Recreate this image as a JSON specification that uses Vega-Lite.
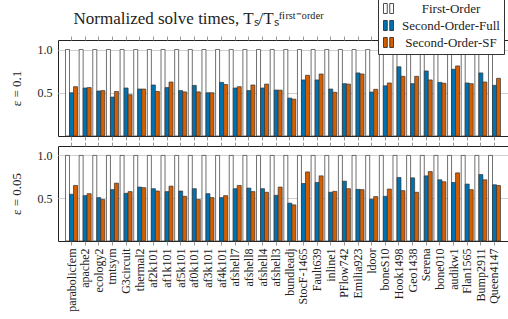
{
"$schema": "https://vega.github.io/schema/vega-lite/v6.json",
"padding": {"left": 9, "top": -3, "right": 0, "bottom": 0},
"title": {"text": "Normalized solve times, Tₛ/Tₛᶠⁱʳˢᵗ⁻ᵒʳᵈᵉʳ", "anchor": "start", "font": "Liberation Serif", "fontSize": 17, "fontWeight": "normal", "color": "#222", "dx": 64, "dy": 35, "offset": 4},
"datasets": {"d": [
{"m":"parabolicfem","e":"0.1","s":"First-Order","v":1},{"m":"parabolicfem","e":"0.1","s":"Second-Order-Full","v":0.50},{"m":"parabolicfem","e":"0.1","s":"Second-Order-SF","v":0.57},
{"m":"parabolicfem","e":"0.05","s":"First-Order","v":1},{"m":"parabolicfem","e":"0.05","s":"Second-Order-Full","v":0.546},{"m":"parabolicfem","e":"0.05","s":"Second-Order-SF","v":0.649},
{"m":"apache2","e":"0.1","s":"First-Order","v":1},{"m":"apache2","e":"0.1","s":"Second-Order-Full","v":0.555},{"m":"apache2","e":"0.1","s":"Second-Order-SF","v":0.56},
{"m":"apache2","e":"0.05","s":"First-Order","v":1},{"m":"apache2","e":"0.05","s":"Second-Order-Full","v":0.53},{"m":"apache2","e":"0.05","s":"Second-Order-SF","v":0.553},
{"m":"ecology2","e":"0.1","s":"First-Order","v":1},{"m":"ecology2","e":"0.1","s":"Second-Order-Full","v":0.52},{"m":"ecology2","e":"0.1","s":"Second-Order-SF","v":0.525},
{"m":"ecology2","e":"0.05","s":"First-Order","v":1},{"m":"ecology2","e":"0.05","s":"Second-Order-Full","v":0.507},{"m":"ecology2","e":"0.05","s":"Second-Order-SF","v":0.484},
{"m":"tmtsym","e":"0.1","s":"First-Order","v":1},{"m":"tmtsym","e":"0.1","s":"Second-Order-Full","v":0.45},{"m":"tmtsym","e":"0.1","s":"Second-Order-SF","v":0.515},
{"m":"tmtsym","e":"0.05","s":"First-Order","v":1},{"m":"tmtsym","e":"0.05","s":"Second-Order-Full","v":0.60},{"m":"tmtsym","e":"0.05","s":"Second-Order-SF","v":0.676},
{"m":"G3circuit","e":"0.1","s":"First-Order","v":1},{"m":"G3circuit","e":"0.1","s":"Second-Order-Full","v":0.555},{"m":"G3circuit","e":"0.1","s":"Second-Order-SF","v":0.477},
{"m":"G3circuit","e":"0.05","s":"First-Order","v":1},{"m":"G3circuit","e":"0.05","s":"Second-Order-Full","v":0.557},{"m":"G3circuit","e":"0.05","s":"Second-Order-SF","v":0.577},
{"m":"thermal2","e":"0.1","s":"First-Order","v":1},{"m":"thermal2","e":"0.1","s":"Second-Order-Full","v":0.543},{"m":"thermal2","e":"0.1","s":"Second-Order-SF","v":0.543},
{"m":"thermal2","e":"0.05","s":"First-Order","v":1},{"m":"thermal2","e":"0.05","s":"Second-Order-Full","v":0.63},{"m":"thermal2","e":"0.05","s":"Second-Order-SF","v":0.623},
{"m":"af2k101","e":"0.1","s":"First-Order","v":1},{"m":"af2k101","e":"0.1","s":"Second-Order-Full","v":0.59},{"m":"af2k101","e":"0.1","s":"Second-Order-SF","v":0.515},
{"m":"af2k101","e":"0.05","s":"First-Order","v":1},{"m":"af2k101","e":"0.05","s":"Second-Order-Full","v":0.611},{"m":"af2k101","e":"0.05","s":"Second-Order-SF","v":0.584},
{"m":"af1k101","e":"0.1","s":"First-Order","v":1},{"m":"af1k101","e":"0.1","s":"Second-Order-Full","v":0.56},{"m":"af1k101","e":"0.1","s":"Second-Order-SF","v":0.624},
{"m":"af1k101","e":"0.05","s":"First-Order","v":1},{"m":"af1k101","e":"0.05","s":"Second-Order-Full","v":0.577},{"m":"af1k101","e":"0.05","s":"Second-Order-SF","v":0.641},
{"m":"af5k101","e":"0.1","s":"First-Order","v":1},{"m":"af5k101","e":"0.1","s":"Second-Order-Full","v":0.525},{"m":"af5k101","e":"0.1","s":"Second-Order-SF","v":0.51},
{"m":"af5k101","e":"0.05","s":"First-Order","v":1},{"m":"af5k101","e":"0.05","s":"Second-Order-Full","v":0.584},{"m":"af5k101","e":"0.05","s":"Second-Order-SF","v":0.522},
{"m":"af0k101","e":"0.1","s":"First-Order","v":1},{"m":"af0k101","e":"0.1","s":"Second-Order-Full","v":0.585},{"m":"af0k101","e":"0.1","s":"Second-Order-SF","v":0.51},
{"m":"af0k101","e":"0.05","s":"First-Order","v":1},{"m":"af0k101","e":"0.05","s":"Second-Order-Full","v":0.611},{"m":"af0k101","e":"0.05","s":"Second-Order-SF","v":0.484},
{"m":"af3k101","e":"0.1","s":"First-Order","v":1},{"m":"af3k101","e":"0.1","s":"Second-Order-Full","v":0.50},{"m":"af3k101","e":"0.1","s":"Second-Order-SF","v":0.50},
{"m":"af3k101","e":"0.05","s":"First-Order","v":1},{"m":"af3k101","e":"0.05","s":"Second-Order-Full","v":0.553},{"m":"af3k101","e":"0.05","s":"Second-Order-SF","v":0.507},
{"m":"af4k101","e":"0.1","s":"First-Order","v":1},{"m":"af4k101","e":"0.1","s":"Second-Order-Full","v":0.62},{"m":"af4k101","e":"0.1","s":"Second-Order-SF","v":0.595},
{"m":"af4k101","e":"0.05","s":"First-Order","v":1},{"m":"af4k101","e":"0.05","s":"Second-Order-Full","v":0.507},{"m":"af4k101","e":"0.05","s":"Second-Order-SF","v":0.53},
{"m":"afshell7","e":"0.1","s":"First-Order","v":1},{"m":"afshell7","e":"0.1","s":"Second-Order-Full","v":0.555},{"m":"afshell7","e":"0.1","s":"Second-Order-SF","v":0.57},
{"m":"afshell7","e":"0.05","s":"First-Order","v":1},{"m":"afshell7","e":"0.05","s":"Second-Order-Full","v":0.611},{"m":"afshell7","e":"0.05","s":"Second-Order-SF","v":0.649},
{"m":"afshell8","e":"0.1","s":"First-Order","v":1},{"m":"afshell8","e":"0.1","s":"Second-Order-Full","v":0.525},{"m":"afshell8","e":"0.1","s":"Second-Order-SF","v":0.59},
{"m":"afshell8","e":"0.05","s":"First-Order","v":1},{"m":"afshell8","e":"0.05","s":"Second-Order-Full","v":0.618},{"m":"afshell8","e":"0.05","s":"Second-Order-SF","v":0.577},
{"m":"afshell4","e":"0.1","s":"First-Order","v":1},{"m":"afshell4","e":"0.1","s":"Second-Order-Full","v":0.555},{"m":"afshell4","e":"0.1","s":"Second-Order-SF","v":0.60},
{"m":"afshell4","e":"0.05","s":"First-Order","v":1},{"m":"afshell4","e":"0.05","s":"Second-Order-Full","v":0.611},{"m":"afshell4","e":"0.05","s":"Second-Order-SF","v":0.569},
{"m":"afshell3","e":"0.1","s":"First-Order","v":1},{"m":"afshell3","e":"0.1","s":"Second-Order-Full","v":0.531},{"m":"afshell3","e":"0.1","s":"Second-Order-SF","v":0.53},
{"m":"afshell3","e":"0.05","s":"First-Order","v":1},{"m":"afshell3","e":"0.05","s":"Second-Order-Full","v":0.534},{"m":"afshell3","e":"0.05","s":"Second-Order-SF","v":0.63},
{"m":"bundleadj","e":"0.1","s":"First-Order","v":1},{"m":"bundleadj","e":"0.1","s":"Second-Order-Full","v":0.438},{"m":"bundleadj","e":"0.1","s":"Second-Order-SF","v":0.426},
{"m":"bundleadj","e":"0.05","s":"First-Order","v":1},{"m":"bundleadj","e":"0.05","s":"Second-Order-Full","v":0.442},{"m":"bundleadj","e":"0.05","s":"Second-Order-SF","v":0.422},
{"m":"StocF-1465","e":"0.1","s":"First-Order","v":1},{"m":"StocF-1465","e":"0.1","s":"Second-Order-Full","v":0.648},{"m":"StocF-1465","e":"0.1","s":"Second-Order-SF","v":0.702},
{"m":"StocF-1465","e":"0.05","s":"First-Order","v":1},{"m":"StocF-1465","e":"0.05","s":"Second-Order-Full","v":0.672},{"m":"StocF-1465","e":"0.05","s":"Second-Order-SF","v":0.807},
{"m":"Fault639","e":"0.1","s":"First-Order","v":1},{"m":"Fault639","e":"0.1","s":"Second-Order-Full","v":0.648},{"m":"Fault639","e":"0.1","s":"Second-Order-SF","v":0.717},
{"m":"Fault639","e":"0.05","s":"First-Order","v":1},{"m":"Fault639","e":"0.05","s":"Second-Order-Full","v":0.684},{"m":"Fault639","e":"0.05","s":"Second-Order-SF","v":0.761},
{"m":"inline1","e":"0.1","s":"First-Order","v":1},{"m":"inline1","e":"0.1","s":"Second-Order-Full","v":0.543},{"m":"inline1","e":"0.1","s":"Second-Order-SF","v":0.505},
{"m":"inline1","e":"0.05","s":"First-Order","v":1},{"m":"inline1","e":"0.05","s":"Second-Order-Full","v":0.569},{"m":"inline1","e":"0.05","s":"Second-Order-SF","v":0.58},
{"m":"PFlow742","e":"0.1","s":"First-Order","v":1},{"m":"PFlow742","e":"0.1","s":"Second-Order-Full","v":0.605},{"m":"PFlow742","e":"0.1","s":"Second-Order-SF","v":0.60},
{"m":"PFlow742","e":"0.05","s":"First-Order","v":1},{"m":"PFlow742","e":"0.05","s":"Second-Order-Full","v":0.699},{"m":"PFlow742","e":"0.05","s":"Second-Order-SF","v":0.611},
{"m":"Emilia923","e":"0.1","s":"First-Order","v":1},{"m":"Emilia923","e":"0.1","s":"Second-Order-Full","v":0.729},{"m":"Emilia923","e":"0.1","s":"Second-Order-SF","v":0.717},
{"m":"Emilia923","e":"0.05","s":"First-Order","v":1},{"m":"Emilia923","e":"0.05","s":"Second-Order-Full","v":0.603},{"m":"Emilia923","e":"0.05","s":"Second-Order-SF","v":0.60},
{"m":"ldoor","e":"0.1","s":"First-Order","v":1},{"m":"ldoor","e":"0.1","s":"Second-Order-Full","v":0.508},{"m":"ldoor","e":"0.1","s":"Second-Order-SF","v":0.54},
{"m":"ldoor","e":"0.05","s":"First-Order","v":1},{"m":"ldoor","e":"0.05","s":"Second-Order-Full","v":0.488},{"m":"ldoor","e":"0.05","s":"Second-Order-SF","v":0.519},
{"m":"boneS10","e":"0.1","s":"First-Order","v":1},{"m":"boneS10","e":"0.1","s":"Second-Order-Full","v":0.58},{"m":"boneS10","e":"0.1","s":"Second-Order-SF","v":0.613},
{"m":"boneS10","e":"0.05","s":"First-Order","v":1},{"m":"boneS10","e":"0.05","s":"Second-Order-Full","v":0.522},{"m":"boneS10","e":"0.05","s":"Second-Order-SF","v":0.607},
{"m":"Hook1498","e":"0.1","s":"First-Order","v":1},{"m":"Hook1498","e":"0.1","s":"Second-Order-Full","v":0.80},{"m":"Hook1498","e":"0.1","s":"Second-Order-SF","v":0.69},
{"m":"Hook1498","e":"0.05","s":"First-Order","v":1},{"m":"Hook1498","e":"0.05","s":"Second-Order-Full","v":0.742},{"m":"Hook1498","e":"0.05","s":"Second-Order-SF","v":0.588},
{"m":"Geo1438","e":"0.1","s":"First-Order","v":1},{"m":"Geo1438","e":"0.1","s":"Second-Order-Full","v":0.605},{"m":"Geo1438","e":"0.1","s":"Second-Order-SF","v":0.69},
{"m":"Geo1438","e":"0.05","s":"First-Order","v":1},{"m":"Geo1438","e":"0.05","s":"Second-Order-Full","v":0.738},{"m":"Geo1438","e":"0.05","s":"Second-Order-SF","v":0.569},
{"m":"Serena","e":"0.1","s":"First-Order","v":1},{"m":"Serena","e":"0.1","s":"Second-Order-Full","v":0.752},{"m":"Serena","e":"0.1","s":"Second-Order-SF","v":0.648},
{"m":"Serena","e":"0.05","s":"First-Order","v":1},{"m":"Serena","e":"0.05","s":"Second-Order-Full","v":0.761},{"m":"Serena","e":"0.05","s":"Second-Order-SF","v":0.811},
{"m":"bone010","e":"0.1","s":"First-Order","v":1},{"m":"bone010","e":"0.1","s":"Second-Order-Full","v":0.62},{"m":"bone010","e":"0.1","s":"Second-Order-SF","v":0.61},
{"m":"bone010","e":"0.05","s":"First-Order","v":1},{"m":"bone010","e":"0.05","s":"Second-Order-Full","v":0.715},{"m":"bone010","e":"0.05","s":"Second-Order-SF","v":0.692},
{"m":"audikw1","e":"0.1","s":"First-Order","v":1},{"m":"audikw1","e":"0.1","s":"Second-Order-Full","v":0.772},{"m":"audikw1","e":"0.1","s":"Second-Order-SF","v":0.81},
{"m":"audikw1","e":"0.05","s":"First-Order","v":1},{"m":"audikw1","e":"0.05","s":"Second-Order-Full","v":0.684},{"m":"audikw1","e":"0.05","s":"Second-Order-SF","v":0.796},
{"m":"Flan1565","e":"0.1","s":"First-Order","v":1},{"m":"Flan1565","e":"0.1","s":"Second-Order-Full","v":0.613},{"m":"Flan1565","e":"0.1","s":"Second-Order-SF","v":0.605},
{"m":"Flan1565","e":"0.05","s":"First-Order","v":1},{"m":"Flan1565","e":"0.05","s":"Second-Order-Full","v":0.665},{"m":"Flan1565","e":"0.05","s":"Second-Order-SF","v":0.60},
{"m":"Bump2911","e":"0.1","s":"First-Order","v":1},{"m":"Bump2911","e":"0.1","s":"Second-Order-Full","v":0.729},{"m":"Bump2911","e":"0.1","s":"Second-Order-SF","v":0.624},
{"m":"Bump2911","e":"0.05","s":"First-Order","v":1},{"m":"Bump2911","e":"0.05","s":"Second-Order-Full","v":0.776},{"m":"Bump2911","e":"0.05","s":"Second-Order-SF","v":0.715},
{"m":"Queen4147","e":"0.1","s":"First-Order","v":1},{"m":"Queen4147","e":"0.1","s":"Second-Order-Full","v":0.586},{"m":"Queen4147","e":"0.1","s":"Second-Order-SF","v":0.667},
{"m":"Queen4147","e":"0.05","s":"First-Order","v":1},{"m":"Queen4147","e":"0.05","s":"Second-Order-Full","v":0.657},{"m":"Queen4147","e":"0.05","s":"Second-Order-SF","v":0.649}
]},
"data": {"name": "d"},
"spacing": 0,
"resolve": {"legend": {"color": "independent"}},
"vconcat": [
{
"width": 450, "height": 96,
"transform": [{"filter": "datum.e == '0.1'"}],
"layer": [
{"mark": {"type": "bar", "stroke": "#333", "strokeWidth": 0.7},
 "encoding": {
  "x": {"field": "m", "type": "nominal", "sort": null, "scale": {"paddingInner": 0.12, "paddingOuter": 0.55},
        "axis": {"orient": "bottom", "labels": false, "title": null, "domain": false, "ticks": true, "tickSize": 4, "tickColor": "#999"}},
  "xOffset": {"field": "s", "type": "nominal", "sort": null, "scale": {"paddingInner": 0, "paddingOuter": 0}},
  "y": {"field": "v", "type": "quantitative", "scale": {"domain": [0, 1.11], "nice": false},
        "axis": {"title": "ε = 0.1", "values": [0.5, 1], "format": ".1f", "grid": true, "gridColor": "#d0d0d0", "domain": false, "ticks": false, "labelPadding": 6, "labelFontSize": 12, "titleFontSize": 13, "titlePadding": 14, "titleFontWeight": "normal"}},
  "color": {"field": "s", "type": "nominal", "sort": null,
            "scale": {"domain": ["First-Order", "Second-Order-Full", "Second-Order-SF"], "range": ["#ffffff", "#0072B2", "#D55E00"]},
            "legend": {"orient": "none", "legendX": 320, "legendY": -42, "title": null,
                       "symbolType": "M-1,-1H-0.25V1H-1Z M0.25,-1H1V1H0.25Z", "symbolSize": 100,
                       "symbolStrokeColor": "#222", "symbolStrokeWidth": 0.8,
                       "labelFont": "Liberation Serif", "labelFontSize": 13, "labelColor": "#222",
                       "labelAlign": "center", "labelOffset": 56,
                       "fillColor": "white", "strokeColor": "#333", "padding": 4, "rowPadding": 2}}
 }},
{"mark": {"type": "tick", "opacity": 0},
 "encoding": {
  "x": {"field": "m", "type": "nominal", "sort": null,
        "axis": {"orient": "top", "labels": false, "title": null, "domain": false, "ticks": true, "tickSize": 4, "tickColor": "#999"}}
 }}
],
"resolve": {"axis": {"x": "independent"}}
},
{
"width": 450, "height": 95,
"transform": [{"filter": "datum.e == '0.05'"}],
"layer": [
{"mark": {"type": "bar", "stroke": "#333", "strokeWidth": 0.7},
 "encoding": {
  "x": {"field": "m", "type": "nominal", "sort": null, "scale": {"paddingInner": 0.12, "paddingOuter": 0.55},
        "axis": {"orient": "bottom", "labels": true, "labelAngle": -90, "labelFontSize": 12, "labelPadding": 3, "title": null, "domain": false, "ticks": true, "tickSize": 4, "tickColor": "#999"}},
  "xOffset": {"field": "s", "type": "nominal", "sort": null, "scale": {"paddingInner": 0, "paddingOuter": 0}},
  "y": {"field": "v", "type": "quantitative", "scale": {"domain": [0, 1.11], "nice": false},
        "axis": {"title": "ε = 0.05", "values": [0.5, 1], "format": ".1f", "grid": true, "gridColor": "#d0d0d0", "domain": false, "ticks": false, "labelPadding": 6, "labelFontSize": 12, "titleFontSize": 13, "titlePadding": 14, "titleFontWeight": "normal"}},
  "color": {"field": "s", "type": "nominal", "sort": null,
            "scale": {"domain": ["First-Order", "Second-Order-Full", "Second-Order-SF"], "range": ["#ffffff", "#0072B2", "#D55E00"]},
            "legend": null}
 }},
{"mark": {"type": "tick", "opacity": 0},
 "encoding": {
  "x": {"field": "m", "type": "nominal", "sort": null,
        "axis": {"orient": "top", "labels": false, "title": null, "domain": false, "ticks": true, "tickSize": 4, "tickColor": "#999"}}
 }}
],
"resolve": {"axis": {"x": "independent"}}
}
],
"config": {
  "font": "Liberation Serif",
  "view": {"stroke": "#222", "strokeWidth": 1},
  "axis": {"labelFont": "Liberation Serif", "titleFont": "Liberation Serif", "labelColor": "#222", "titleColor": "#222"}
}
}
